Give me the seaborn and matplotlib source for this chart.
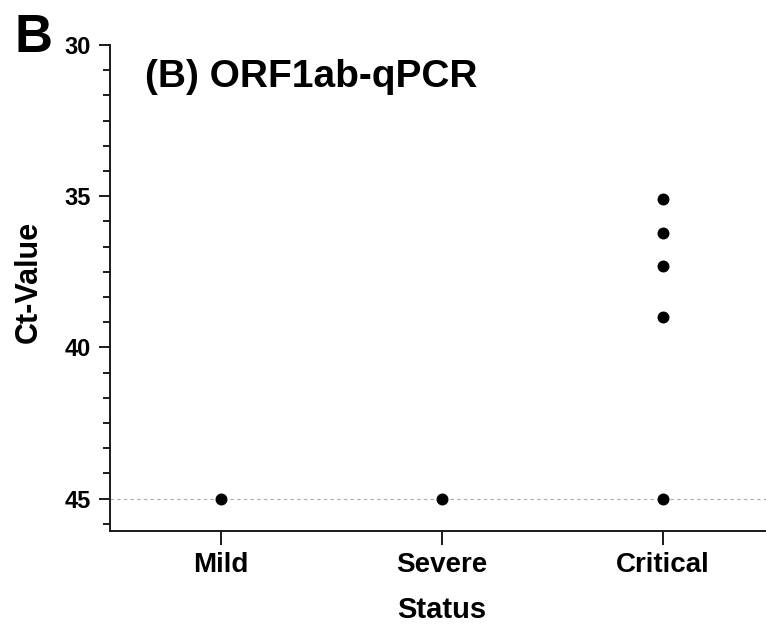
import matplotlib
matplotlib.use("Agg")
import matplotlib.pyplot as plt
import seaborn as sns
import pandas as pd
from matplotlib.ticker import MultipleLocator

status = ["Mild", "Severe", "Critical", "Critical", "Critical", "Critical", "Critical"]
ct_value = [45.0, 45.0, 35.1, 36.2, 37.3, 39.0, 45.0]
categories = ["Mild", "Severe", "Critical"]
y_ticks = [30, 35, 40, 45]
cutoff = 45

sns.set_style("ticks")
plt.rcParams["font.family"] = ["Liberation Sans", "DejaVu Sans"]
plt.rcParams["font.weight"] = "bold"
plt.rcParams["text.color"] = "black"
plt.rcParams["axes.labelcolor"] = "black"
plt.rcParams["xtick.color"] = "black"
plt.rcParams["ytick.color"] = "black"

df = pd.DataFrame({"Status": status, "Ct": ct_value})

fig = plt.figure(figsize=(7.66, 6.26), dpi=100)
ax = fig.add_axes([110/766, 1-531/626, 663/766, (531-45)/626])

ax.axhline(cutoff, color="#a8a8a8", lw=0.8, ls=(0, (3, 3)), zorder=1)
sns.stripplot(data=df, x="Status", y="Ct", order=categories, jitter=False,
              color="black", size=8.6, ax=ax, zorder=3)

ax.set_xlim(-0.5, 2.5)
ax.set_ylim(46.07, 30)
ax.set_yticks(y_ticks)
ax.yaxis.set_minor_locator(MultipleLocator(5/6))
sns.despine(ax=ax)
for s in ["left", "bottom"]:
    ax.spines[s].set_linewidth(1.4)
    ax.spines[s].set_color("#1a1a1a")
ax.tick_params(axis="y", which="major", length=8, width=1.4, labelsize=17, colors="#1a1a1a", labelcolor="black", pad=6)
ax.tick_params(axis="y", which="minor", length=5, width=1.4, colors="#1a1a1a")
ax.tick_params(axis="x", which="major", length=10, width=1.4, labelsize=20, colors="#1a1a1a", labelcolor="black", pad=5)
for lbl in ax.get_xticklabels() + ax.get_yticklabels():
    lbl.set_fontweight("bold")

ax.set_xlabel("Status", fontsize=21, fontweight="bold", labelpad=13)
ax.set_ylabel("Ct-Value", fontsize=22, fontweight="bold")
ax.yaxis.set_label_coords((44-110)/663, (531-282)/486)

fig.text(145/766, 1-87/626, "(B) ORF1ab-qPCR", fontsize=28, fontweight="bold", va="baseline", ha="left")
fig.text(14/766, 1-52/626, "B", fontsize=38, fontweight="bold", va="baseline", ha="left")

fig.savefig("out.png", dpi=100)
